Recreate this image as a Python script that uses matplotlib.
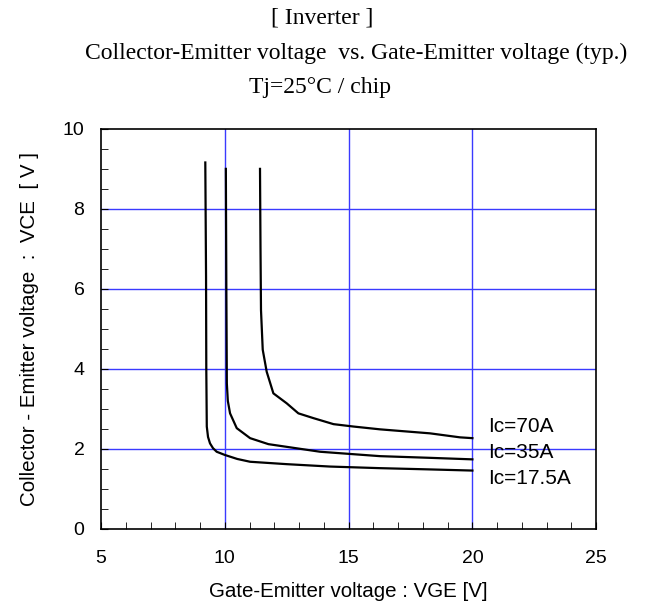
from matplotlib import pyplot as plt
from matplotlib.ticker import MultipleLocator

# VGE [V] / VCE [V]
vge_17 = [9.21, 9.24, 9.25, 9.27, 9.32, 9.40, 9.52, 9.67, 10.0, 10.5, 11.02, 12.5, 14.25, 16.27, 18.2, 20.0]
vce_17 = [9.16, 6.31, 4.0, 2.56, 2.30, 2.14, 2.02, 1.93, 1.85, 1.75, 1.68, 1.62, 1.56, 1.52, 1.49, 1.46]

vge_35 = [10.04, 10.06, 10.08, 10.12, 10.21, 10.48, 11.02, 11.76, 12.64, 13.85, 15.06, 16.27, 18.2, 20.0]
vce_35 = [9.0, 6.0, 3.64, 3.2, 2.89, 2.52, 2.27, 2.12, 2.04, 1.93, 1.875, 1.82, 1.78, 1.74]

vge_70 = [11.42, 11.44, 11.46, 11.53, 11.69, 11.96, 12.5, 12.97, 13.58, 14.39, 15.2, 16.27, 18.29, 19.5, 20.0]
vce_70 = [9.0, 7.0, 5.47, 4.48, 3.93, 3.39, 3.14, 2.89, 2.77, 2.62, 2.56, 2.49, 2.39, 2.29, 2.27]

labels = ["Ic=70A", "Ic=35A", "Ic=17.5A"]
label_y = [2.56, 1.91, 1.27]

plt.rcParams['font.family'] = ['Liberation Sans', 'DejaVu Sans']

fig = plt.figure(figsize=(6.48, 6.09), dpi=100)
ax = fig.add_axes([0.156, 0.1314, 0.764, 0.657])

grid_color = '#3a3aff'
for x in [10, 15, 20]:
    ax.axvline(x, color=grid_color, lw=1, zorder=1)
for y in [2, 4, 6, 8]:
    ax.axhline(y, color=grid_color, lw=1, zorder=1)

for xs, ys in [(vge_17, vce_17), (vge_35, vce_35), (vge_70, vce_70)]:
    ax.plot(xs, ys, color='black', lw=1.6, zorder=3)

for lab, y in zip(labels, label_y):
    ax.text(20.65, y, lab, fontsize=15, va='center', ha='left')

ax.set_xlim(5, 25)
ax.set_ylim(0, 10)
ax.xaxis.set_major_locator(MultipleLocator(5))
ax.xaxis.set_minor_locator(MultipleLocator(1))
ax.yaxis.set_major_locator(MultipleLocator(2))
ax.yaxis.set_minor_locator(MultipleLocator(0.5))
ax.tick_params(which='both', direction='in', top=False, right=False,
               labelsize=14, color='black')
ax.tick_params(which='major', length=5)
ax.tick_params(which='minor', length=5)
ax.tick_params(axis='x', which='major', pad=15)
ax.tick_params(axis='y', which='major', pad=12)
for s in ax.spines.values():
    s.set_linewidth(1.2)

ax.set_xlabel('Gate-Emitter voltage : VGE [V]', fontsize=14.8, labelpad=11)
ax.set_ylabel('Collector - Emitter voltage  :  VCE  [ V ]', fontsize=14.8, labelpad=17)

serif = ['Liberation Serif', 'DejaVu Serif']
fig.text(0.497, 0.971, '[ Inverter ]', family=serif, fontsize=17, ha='center', va='center')
fig.text(0.549, 0.913, 'Collector-Emitter voltage  vs. Gate-Emitter voltage (typ.)',
         family=serif, fontsize=17, ha='center', va='center')
fig.text(0.494, 0.857, 'Tj=25°C / chip', family=serif, fontsize=17, ha='center', va='center')

fig.savefig('out.png', dpi=100)
